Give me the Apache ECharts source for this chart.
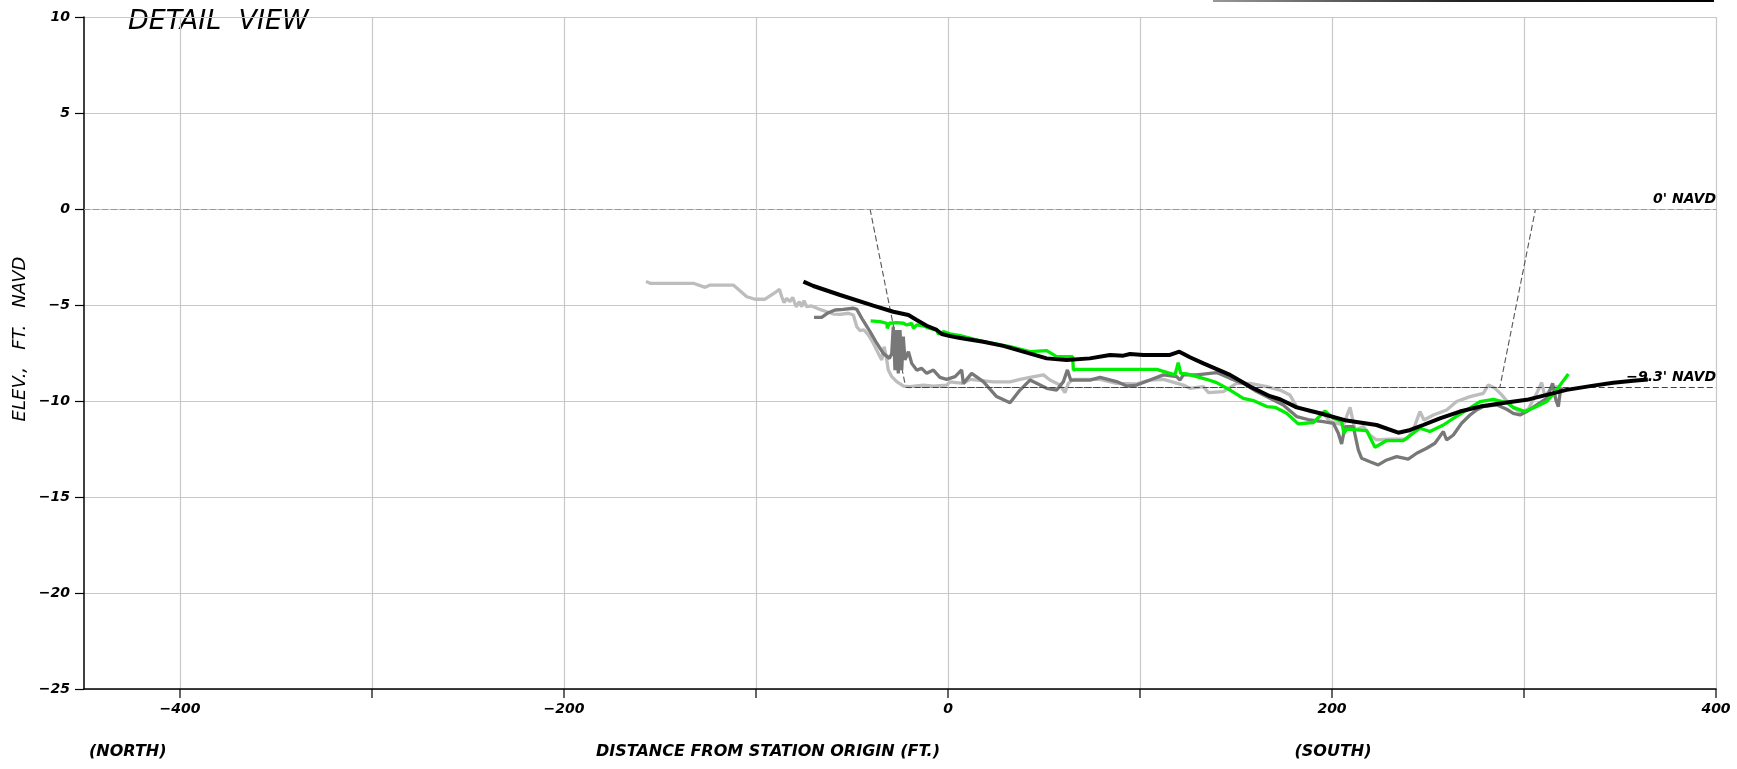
<!DOCTYPE html>
<html>
<head>
<meta charset="utf-8">
<title>Detail View</title>
<script src="https://cdn.jsdelivr.net/npm/echarts@6/dist/echarts.min.js"></script>
<style>
  html, body { margin: 0; padding: 0; background: #fff; }
  #chart { width: 1737px; height: 769px; }
</style>
</head>
<body>
<div id="chart"></div>
<script>
// Cross-section survey profiles: [distance from station origin (ft), elevation (ft NAVD)]
const lightGrayProfile = [
  [-157.3,-3.77],[-155.2,-3.87],[-132.6,-3.87],[-126.5,-4.08],[-123.9,-3.96],[-111.8,-3.96],
  [-104.8,-4.57],[-100.5,-4.70],[-95.3,-4.70],[-90.1,-4.36],[-87.8,-4.18],[-86.6,-4.57],
  [-85.4,-4.88],[-84.0,-4.65],[-82.3,-4.83],[-80.9,-4.60],[-79.1,-5.09],[-77.4,-4.83],
  [-76.2,-5.09],[-75.0,-4.77],[-73.6,-5.09],[-71.0,-5.05],[-66.7,-5.23],[-63.2,-5.35],
  [-59.7,-5.47],[-56.2,-5.49],[-51.9,-5.43],[-49.3,-5.52],[-47.5,-6.13],[-45.8,-6.34],
  [-43.7,-6.30],[-41.5,-6.56],[-38.9,-6.99],[-36.3,-7.52],[-34.5,-7.86],[-33.3,-7.17],
  [-31.9,-7.86],[-31.1,-8.39],[-29.3,-8.73],[-26.7,-8.99],[-23.2,-9.22],[-19.8,-9.25],
  [-12.8,-9.17],[-7.6,-9.22],[-0.7,-9.17],[1.0,-9.00],[8.0,-9.08],[11.5,-8.87],[23.6,-9.00],
  [32.3,-9.00],[37.5,-8.87],[42.7,-8.77],[49.7,-8.64],[53.1,-8.91],[58.3,-9.17],[60.9,-9.56],
  [62.7,-9.08],[65.3,-8.87],[79.2,-8.87],[87.8,-9.08],[98.3,-9.11],[105.2,-8.91],[112.2,-8.87],
  [122.6,-9.17],[126.0,-9.34],[133.0,-9.25],[135.6,-9.56],[143.4,-9.51],[150.3,-9.08],
  [157.3,-9.08],[166.0,-9.25],[172.9,-9.43],[178.1,-9.69],[181.6,-10.29],[188.5,-10.55],
  [195.5,-10.64],[198.9,-11.07],[205.9,-11.25],[209.4,-10.33],[212.0,-11.51],[216.3,-11.33],
  [219.8,-11.77],[223.2,-12.03],[230.2,-11.99],[238.9,-11.99],[242.3,-11.51],[245.8,-10.55],
  [247.9,-10.99],[252.8,-10.73],[259.7,-10.47],[264.9,-10.03],[271.9,-9.77],[278.8,-9.60],
  [281.4,-9.16],[284.9,-9.34],[288.4,-9.68],[292.7,-10.20],[297.9,-10.60],[302.2,-10.43],
  [306.6,-9.60],[309.2,-9.04],[310.9,-9.77],[313.5,-9.42],[317.0,-9.25],[320.1,-9.42]
];

const darkGrayProfile = [
  [-69.8,-5.64],[-65.8,-5.64],[-62.3,-5.40],[-58.8,-5.26],[-54.5,-5.23],[-49.3,-5.17],
  [-47.5,-5.23],[-44.4,-5.78],[-40.6,-6.39],[-37.1,-6.99],[-33.7,-7.52],[-30.5,-7.78],
  [-29.3,-7.52],[-28.5,-6.13],[-27.6,-8.39],[-26.7,-6.30],[-25.9,-8.56],[-25.0,-6.30],
  [-24.1,-8.39],[-23.3,-6.65],[-22.4,-7.86],[-20.6,-7.43],[-18.9,-8.04],[-16.3,-8.39],
  [-13.7,-8.30],[-11.1,-8.56],[-7.6,-8.39],[-4.2,-8.77],[-0.7,-8.87],[3.7,-8.73],[7.1,-8.38],
  [8.0,-9.08],[12.3,-8.56],[18.4,-8.99],[25.3,-9.77],[32.3,-10.09],[37.5,-9.43],[42.7,-8.91],
  [51.4,-9.34],[56.6,-9.43],[60.1,-8.99],[62.2,-8.38],[63.9,-8.91],[73.9,-8.91],[79.2,-8.77],
  [87.8,-8.99],[93.1,-9.22],[98.3,-9.17],[105.2,-8.91],[112.2,-8.64],[119.1,-8.73],
  [120.8,-8.91],[122.6,-8.64],[129.5,-8.64],[139.9,-8.52],[146.9,-8.82],[153.8,-9.08],
  [160.8,-9.51],[167.7,-9.86],[174.6,-10.21],[181.6,-10.81],[188.5,-10.99],[195.5,-11.08],
  [200.7,-11.16],[203.3,-11.68],[205.0,-12.24],[206.8,-11.34],[211.1,-11.34],[213.7,-12.55],
  [215.4,-12.98],[219.8,-13.16],[224.1,-13.33],[228.5,-13.07],[233.7,-12.90],[239.7,-13.03],
  [244.1,-12.72],[249.3,-12.46],[253.6,-12.20],[258.0,-11.59],[259.7,-12.03],[263.2,-11.77],
  [267.5,-11.16],[271.9,-10.73],[275.3,-10.47],[278.8,-10.29],[285.7,-10.20],[291.0,-10.43],
  [294.4,-10.64],[297.9,-10.73],[301.4,-10.55],[306.6,-10.20],[311.8,-9.86],[314.9,-9.08],
  [316.6,-9.94],[317.9,-10.29],[319.1,-9.34],[320.5,-9.51]
];

const greenProfile = [
  [-40.3,-5.83],[-35.4,-5.87],[-31.9,-5.95],[-31.6,-6.22],[-30.5,-5.95],[-26.7,-5.92],
  [-23.2,-5.95],[-21.5,-6.04],[-18.9,-5.95],[-18.0,-6.21],[-16.3,-6.04],[-12.8,-6.09],
  [-9.4,-6.22],[-5.9,-6.30],[-5.0,-6.51],[-2.4,-6.39],[1.1,-6.50],[6.3,-6.60],[18.4,-6.91],
  [32.3,-7.17],[42.7,-7.43],[51.4,-7.38],[56.6,-7.69],[64.9,-7.69],[65.3,-8.38],[67.0,-8.35],
  [108.7,-8.35],[115.6,-8.56],[118.2,-8.64],[119.9,-8.00],[121.2,-8.56],[124.3,-8.59],
  [129.5,-8.73],[134.7,-8.87],[139.9,-9.04],[146.9,-9.43],[153.8,-9.86],[159.0,-9.98],
  [166.0,-10.29],[170.3,-10.33],[176.4,-10.64],[182.4,-11.19],[190.3,-11.12],[196.3,-10.52],
  [200.7,-10.90],[205.0,-11.07],[206.2,-11.68],[207.6,-11.47],[218.0,-11.54],[222.4,-12.41],
  [228.5,-12.06],[237.1,-12.06],[242.3,-11.68],[245.8,-11.42],[251.0,-11.59],[258.0,-11.25],
  [263.2,-10.90],[270.1,-10.47],[277.1,-10.03],[284.0,-9.91],[291.0,-10.08],[294.4,-10.33],
  [300.5,-10.55],[306.6,-10.29],[311.8,-10.03],[317.0,-9.42],[320.5,-8.94],[323.1,-8.59]
];

const blackProfile = [
  [-75.3,-3.78],[-70.1,-4.01],[-56.2,-4.48],[-38.9,-5.03],[-28.5,-5.35],[-20.6,-5.52],
  [-16.3,-5.78],[-11.1,-6.08],[-5.9,-6.30],[-3.3,-6.51],[1.1,-6.62],[6.3,-6.72],[18.4,-6.91],
  [28.8,-7.13],[41.0,-7.48],[51.4,-7.78],[61.8,-7.86],[73.9,-7.78],[84.4,-7.60],[91.3,-7.64],
  [94.8,-7.55],[101.7,-7.60],[115.6,-7.60],[120.5,-7.43],[126.0,-7.72],[133.0,-8.04],
  [146.9,-8.64],[157.3,-9.25],[167.7,-9.75],[172.9,-9.91],[181.6,-10.33],[193.7,-10.64],
  [207.6,-11.02],[223.2,-11.25],[234.5,-11.65],[239.7,-11.54],[247.5,-11.25],[256.2,-10.90],
  [266.6,-10.55],[277.1,-10.29],[291.0,-10.08],[301.4,-9.94],[311.8,-9.68],[322.2,-9.42],
  [336.1,-9.20],[346.5,-9.05],[356.9,-8.95],[364.5,-8.88]
];

// Design channel template (dashed trapezoid) and reference elevations
const templateSides = [[-40.6, 0], [-22.0, -9.3], [287.4, -9.3], [306.0, 0]];
const designStart = -22.0;
const designElevation = -9.3;
const datumElevation = 0;

// Axis extents and tick labels
const xMin = -450, xMax = 400;
const yMin = -25, yMax = 10;
const xTickValues = [-400, -300, -200, -100, 0, 100, 200, 300, 400];
const xLabelValues = [-400, -200, 0, 200, 400];

const FONT = 'DejaVu Sans';
const minus = v => String(v).replace('-', '\u2212');

const chart = echarts.init(document.getElementById('chart'), null, { renderer: 'canvas' });

const labelStyle = {
  fontFamily: FONT, fontStyle: 'italic', fontWeight: 'bold', fontSize: 14, color: '#000'
};

// dashed reference line with a right-aligned caption above its end
function referenceLine(from, to, caption, color) {
  return {
    type: 'line', data: [], silent: true, z: 2,
    markLine: {
      silent: true, symbol: 'none', animation: false,
      lineStyle: { color: color, width: 1.2, type: [6, 3] },
      label: Object.assign({}, labelStyle, {
        show: true, position: 'insideEndTop', distance: [0, 3], formatter: caption
      }),
      emphasis: { disabled: true },
      data: [[{ coord: from }, { coord: to }]]
    }
  };
}

chart.setOption({
  animation: false,
  backgroundColor: '#fff',
  grid: { left: 84, right: 21, top: 17, bottom: 80, containLabel: false },
  xAxis: {
    type: 'value', min: xMin, max: xMax, interval: 50,
    axisLine: { show: true, onZero: false, lineStyle: { color: '#000', width: 1.5 } },
    axisTick: { show: false },
    axisLabel: Object.assign({}, labelStyle, {
      margin: 13,
      formatter: v => (xLabelValues.indexOf(v) >= 0 ? minus(v) : '')
    }),
    splitLine: { show: true, lineStyle: { color: ['rgba(0,0,0,0)', '#c8c8c8'], width: 1.2 } }
  },
  yAxis: {
    type: 'value', min: yMin, max: yMax, interval: 5,
    axisLine: { show: true, onZero: false, lineStyle: { color: '#000', width: 1.5 } },
    axisTick: { show: true, length: 9, lineStyle: { color: '#000', width: 1.2 } },
    axisLabel: Object.assign({}, labelStyle, { margin: 14, formatter: v => minus(v) }),
    splitLine: { show: true, lineStyle: { color: '#c8c8c8', width: 1.2 } }
  },
  series: [
    referenceLine([xMin, datumElevation], [xMax, datumElevation], "0' NAVD", '#9a9a9a'),
    referenceLine([designStart, designElevation], [xMax, designElevation],
                  minus(designElevation) + "' NAVD", '#444'),
    {
      // channel template side slopes
      type: 'line', data: templateSides, symbol: 'none', silent: true, z: 2,
      lineStyle: { color: '#555', width: 1.1, type: [6, 3] }
    },
    {
      type: 'line', data: lightGrayProfile, symbol: 'none', z: 3,
      lineStyle: { color: '#bdbdbd', width: 3.3 }
    },
    {
      type: 'line', data: darkGrayProfile, symbol: 'none', z: 4,
      lineStyle: { color: '#787878', width: 3.3 }
    },
    {
      type: 'line', data: greenProfile, symbol: 'none', z: 5,
      lineStyle: { color: '#00ee00', width: 3.3 }
    },
    {
      type: 'line', data: blackProfile, symbol: 'none', z: 6,
      lineStyle: { color: '#000', width: 4 }
    },
    {
      // x-axis tick marks every 100 ft
      type: 'custom', data: xTickValues.map(v => [v, yMin]), clip: false, silent: true, z: 10,
      renderItem: (params, api) => {
        const p = api.coord([api.value(0), api.value(1)]);
        return {
          type: 'line',
          shape: { x1: p[0], y1: p[1], x2: p[0], y2: p[1] + 9 },
          style: { stroke: '#000', lineWidth: 1.2 }
        };
      }
    }
  ],
  graphic: [
    {
      type: 'text', left: 128, top: 8,
      style: { text: 'DETAIL  VIEW', fontFamily: FONT, fontStyle: 'italic', fontWeight: 'normal',
               fontSize: 27, fill: '#000' }
    },
    {
      type: 'text', x: 20, y: 339, rotation: Math.PI / 2,
      style: { text: 'ELEV.,   FT.   NAVD', fontFamily: FONT, fontStyle: 'italic', fontWeight: 'normal',
               fontSize: 18, fill: '#000', align: 'center', verticalAlign: 'middle' }
    },
    {
      type: 'text', x: 89, y: 752,
      style: { text: '(NORTH)', align: 'left', verticalAlign: 'middle',
               fontFamily: FONT, fontStyle: 'italic', fontWeight: 'bold', fontSize: 16, fill: '#000' }
    },
    {
      type: 'text', x: 768, y: 752,
      style: { text: 'DISTANCE FROM STATION ORIGIN (FT.)', align: 'center', verticalAlign: 'middle',
               fontFamily: FONT, fontStyle: 'italic', fontWeight: 'bold', fontSize: 16, fill: '#000' }
    },
    {
      type: 'text', x: 1333, y: 752,
      style: { text: '(SOUTH)', align: 'center', verticalAlign: 'middle',
               fontFamily: FONT, fontStyle: 'italic', fontWeight: 'bold', fontSize: 16, fill: '#000' }
    },
    {
      type: 'line', shape: { x1: 1213, y1: 1, x2: 1714, y2: 1 },
      style: {
        lineWidth: 2,
        stroke: new echarts.graphic.LinearGradient(0, 0, 1, 0, [
          { offset: 0, color: '#9a9a9a' }, { offset: 0.5, color: '#222' }, { offset: 1, color: '#000' }
        ])
      }
    }
  ]
});
</script>
</body>
</html>
